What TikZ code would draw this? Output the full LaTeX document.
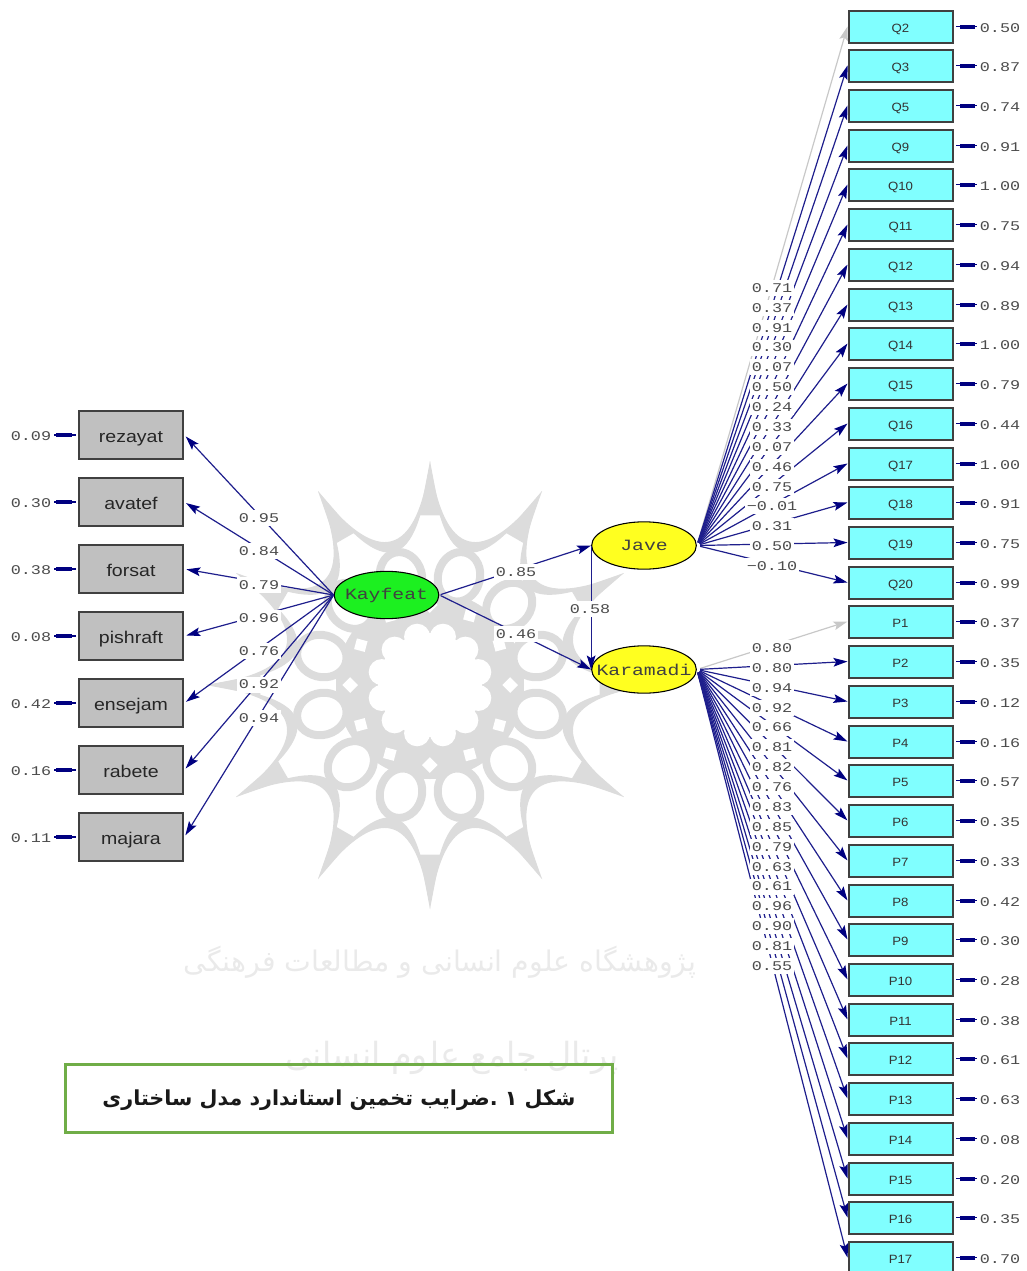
\documentclass[tikz,border=0pt]{standalone}
\usepackage{fontspec}
\usetikzlibrary{shapes.geometric, arrows.meta}
\TeXXeTstate=1
\newfontfamily\valfont[FakeStretch=1.26]{Liberation Mono}
\newfontfamily\rightfont[FakeStretch=1.1]{Liberation Sans}
\newfontfamily\leftfont[FakeStretch=1.15]{Liberation Sans}
\newfontfamily\arabicfont[Script=Arabic]{DejaVu Sans}

\definecolor{lineblue}{RGB}{30,30,140}
\definecolor{tipblue}{RGB}{0,0,128}
\definecolor{fixgray}{RGB}{200,200,200}
\definecolor{wmgray}{RGB}{220,220,220}
\definecolor{wmtext}{RGB}{234,234,234}
\definecolor{boxcyan}{RGB}{128,255,255}
\definecolor{boxgray}{RGB}{192,192,192}
\definecolor{latgreen}{RGB}{28,240,32}
\definecolor{latyellow}{RGB}{255,255,32}
\definecolor{capgreen}{RGB}{112,173,71}

\newcommand{\latname}[1]{\makebox[0pt]{#1}}

\tikzset{
	rightbox/.style={draw=black!75, line width=1.5pt, fill=boxcyan, minimum width=78pt, minimum height=24pt, inner sep=0pt, text=black!80, text height=9pt, text depth=0pt, font=\rightfont\fontsize{9}{10}\selectfont},
	leftbox/.style={draw=black!75, line width=1.5pt, fill=boxgray, minimum width=78.5pt, minimum height=35.5pt, inner sep=0pt, text=black!85, text height=10.8pt, text depth=0pt, font=\leftfont\fontsize{12.75}{14}\selectfont},
	latent/.style={draw=black, thick, ellipse, minimum width=78.5pt, minimum height=35.5pt, inner sep=0pt, text=black!75, font=\valfont\fontsize{11.75}{13}\selectfont},
	val/.style={inner sep=0pt, text=black!70, font=\valfont\fontsize{10}{11}\selectfont},
	load/.style={val, fill=white, minimum height=12pt, inner xsep=1.5pt},
	pathline/.style={draw=lineblue, line width=0.9pt, -{Stealth[length=10.5pt,width=6.5pt,inset=2pt,color=tipblue]}},
	fixline/.style={draw=fixgray, line width=0.9pt, -{Stealth[length=10.5pt,width=6.5pt,inset=2pt,color=fixgray]}},
	errline/.style={draw=tipblue, line width=1pt, shorten <=2pt, shorten >=1.5pt},
	errbar/.style={draw=tipblue, line width=3pt, shorten <=3.5pt, shorten >=4.5pt},
	wmfill/.style={fill=wmgray, draw=none},
}

\def\qlist{Q2/0.50/0.71/fixline, Q3/0.87/0.37/pathline, Q5/0.74/0.91/pathline, Q9/0.91/0.30/pathline, Q10/1.00/0.07/pathline, Q11/0.75/0.50/pathline, Q12/0.94/0.24/pathline, Q13/0.89/0.33/pathline, Q14/1.00/0.07/pathline, Q15/0.79/0.46/pathline, Q16/0.44/0.75/pathline, Q17/1.00/−0.01/pathline, Q18/0.91/0.31/pathline, Q19/0.75/0.50/pathline, Q20/0.99/−0.10/pathline}
\def\plist{P1/0.37/0.80/fixline, P2/0.35/0.80/pathline, P3/0.12/0.94/pathline, P4/0.16/0.92/pathline, P5/0.57/0.66/pathline, P6/0.35/0.81/pathline, P7/0.33/0.82/pathline, P8/0.42/0.76/pathline, P9/0.30/0.83/pathline, P10/0.28/0.85/pathline, P11/0.38/0.79/pathline, P12/0.61/0.63/pathline, P13/0.63/0.61/pathline, P14/0.08/0.96/pathline, P15/0.20/0.90/pathline, P16/0.35/0.81/pathline, P17/0.70/0.55/pathline}
\def\llist{rezayat/0.09/0.95, avatef/0.30/0.84, forsat/0.38/0.79, pishraft/0.08/0.96, ensejam/0.42/0.76, rabete/0.16/0.92, majara/0.11/0.94}

\begin{document}
\begin{tikzpicture}[x=0.75pt, y=0.75pt]

	\useasboundingbox (0,0) rectangle (1027,-1271);

%watermark rosette
	\begin{scope}[shift={(430,-685)}]
		\fill[wmfill] (0,0) circle (94);
		\foreach \a in {0,30,...,330}{
			\fill[wmfill] (\a:224) .. controls (\a+6:128) and (\a+24:128) .. (\a+30:224) .. controls (\a+24:113) and (\a+6:113) .. cycle;
			\fill[wmfill] (\a:224) -- (\a-3.5:170) -- (\a+3.5:170) -- cycle;
		}
		\foreach \a in {15,45,...,345}{
			\filldraw[draw=wmgray, fill=white, line width=6pt, rotate around={\a:(\a:112)}] (\a:112) ellipse [x radius=25, y radius=21];
		}
		\foreach \a in {0,30,...,330}{
			\fill[white, rotate around={\a:(\a:80)}] (\a:88) -- ++(\a+135:11) -- ++(\a+225:11) -- ++(\a+315:11) -- cycle;
			\fill[white] (\a+15:50) circle (13);
		}
		\fill[white] (0,0) circle (52);
	\end{scope}
	\node[text=wmtext, font=\arabicfont\fontsize{21.3}{26}\selectfont] (wmone) at (440,-962) {\beginR پژوهشگاه علوم انسانی و مطالعات فرهنگی\endR};
	\node[text=wmtext, font=\arabicfont\fontsize{25}{30}\selectfont] (wmtwo) at (452,-1058) {\beginR پرتال جامع علوم انسانی\endR};

%latent variables
	\node[latent, fill=latgreen] (Kayfeat) at (386.5,-595) {\latname{Kayfeat}};
	\node[latent, fill=latyellow] (Jave) at (644,-545.5) {\latname{Jave}};
	\node[latent, fill=latyellow] (Karamadi) at (644,-669.5) {\latname{Karamadi}};

%left boxes
	\foreach \name/\err/\coef [count=\i from 0] in \llist {
		\pgfmathsetmacro\yb{-435-67*\i}
		\node[leftbox] (\name) at (131,\yb) {\name};
		\node[val] (e\name) at (31,\yb-1) {\err};
		\draw[errline] (e\name.east |- \name.west) -- (\name.west);
		\draw[errbar] (e\name.east |- \name.west) -- (\name.west);
		\draw[pathline, shorten >=1.5pt] (Kayfeat.west) -- (\name.east);
	}

%right boxes
	\foreach \name/\err/\coef/\sty [count=\i from 0] in \qlist {
		\pgfmathsetmacro\yb{round(-26.5-39.73*\i)+0.5}
		\node[rightbox] (\name) at (900.5,\yb) {\name};
		\node[val] (e\name) at (1000,\yb-1.5) {\err};
		\draw[errline] (e\name.west |- \name.east) -- (\name.east);
		\draw[errbar] (e\name.west |- \name.east) -- (\name.east);
		\draw[\sty, shorten <=2.5pt] (Jave.east) -- (\name.west);
	}
	\foreach \name/\err/\coef/\sty [count=\i from 15] in \plist {
		\pgfmathsetmacro\yb{round(-26.5-39.73*\i)+0.5}
		\node[rightbox] (\name) at (900.5,\yb) {\name};
		\node[val] (e\name) at (1000,\yb-1.5) {\err};
		\draw[errline] (e\name.west |- \name.east) -- (\name.east);
		\draw[errbar] (e\name.west |- \name.east) -- (\name.east);
		\draw[\sty, shorten <=2.5pt] (Karamadi.east) -- (\name.west);
	}

%structural paths
	\draw[pathline, shorten <=1pt] (Kayfeat.east) -- (Jave.west);
	\draw[pathline, shorten <=1pt] (Kayfeat.east) -- (Karamadi.west);
	\draw[pathline] (Jave.west) -- (Karamadi.west);

%coefficients go on top of the lines
	\foreach \name/\err/\coef [count=\i from 0] in \llist {
		\pgfmathsetmacro\yl{-518-33.3*\i}
		\node[load] (c\name) at (259,\yl) {\coef};
	}
	\foreach \name/\err/\coef/\sty [count=\i from 0] in \qlist {
		\pgfmathsetmacro\yl{-288-19.86*\i}
		\node[load] (c\name) at (772,\yl) {\coef};
	}
	\foreach \name/\err/\coef/\sty [count=\i from 0] in \plist {
		\pgfmathsetmacro\yl{-648-19.88*\i}
		\node[load] (c\name) at (772,\yl) {\coef};
	}
	\node[load] (cJave) at (516,-572) {0.85};
	\node[load] (cKaramadi) at (516,-634) {0.46};
	\node[load] (cStruct) at (590,-609) {0.58};

%caption
	\node[draw=capgreen, line width=1.8pt, minimum width=410pt, minimum height=51pt, inner sep=0pt, text=black!90, text height=14pt, text depth=3pt, font=\arabicfont\bfseries\fontsize{15.5}{18}\selectfont] (caption) at (339,-1098.5) {\beginR شکل ۱ .ضرایب تخمین استاندارد مدل ساختاری\endR};

\end{tikzpicture}
\end{document}
